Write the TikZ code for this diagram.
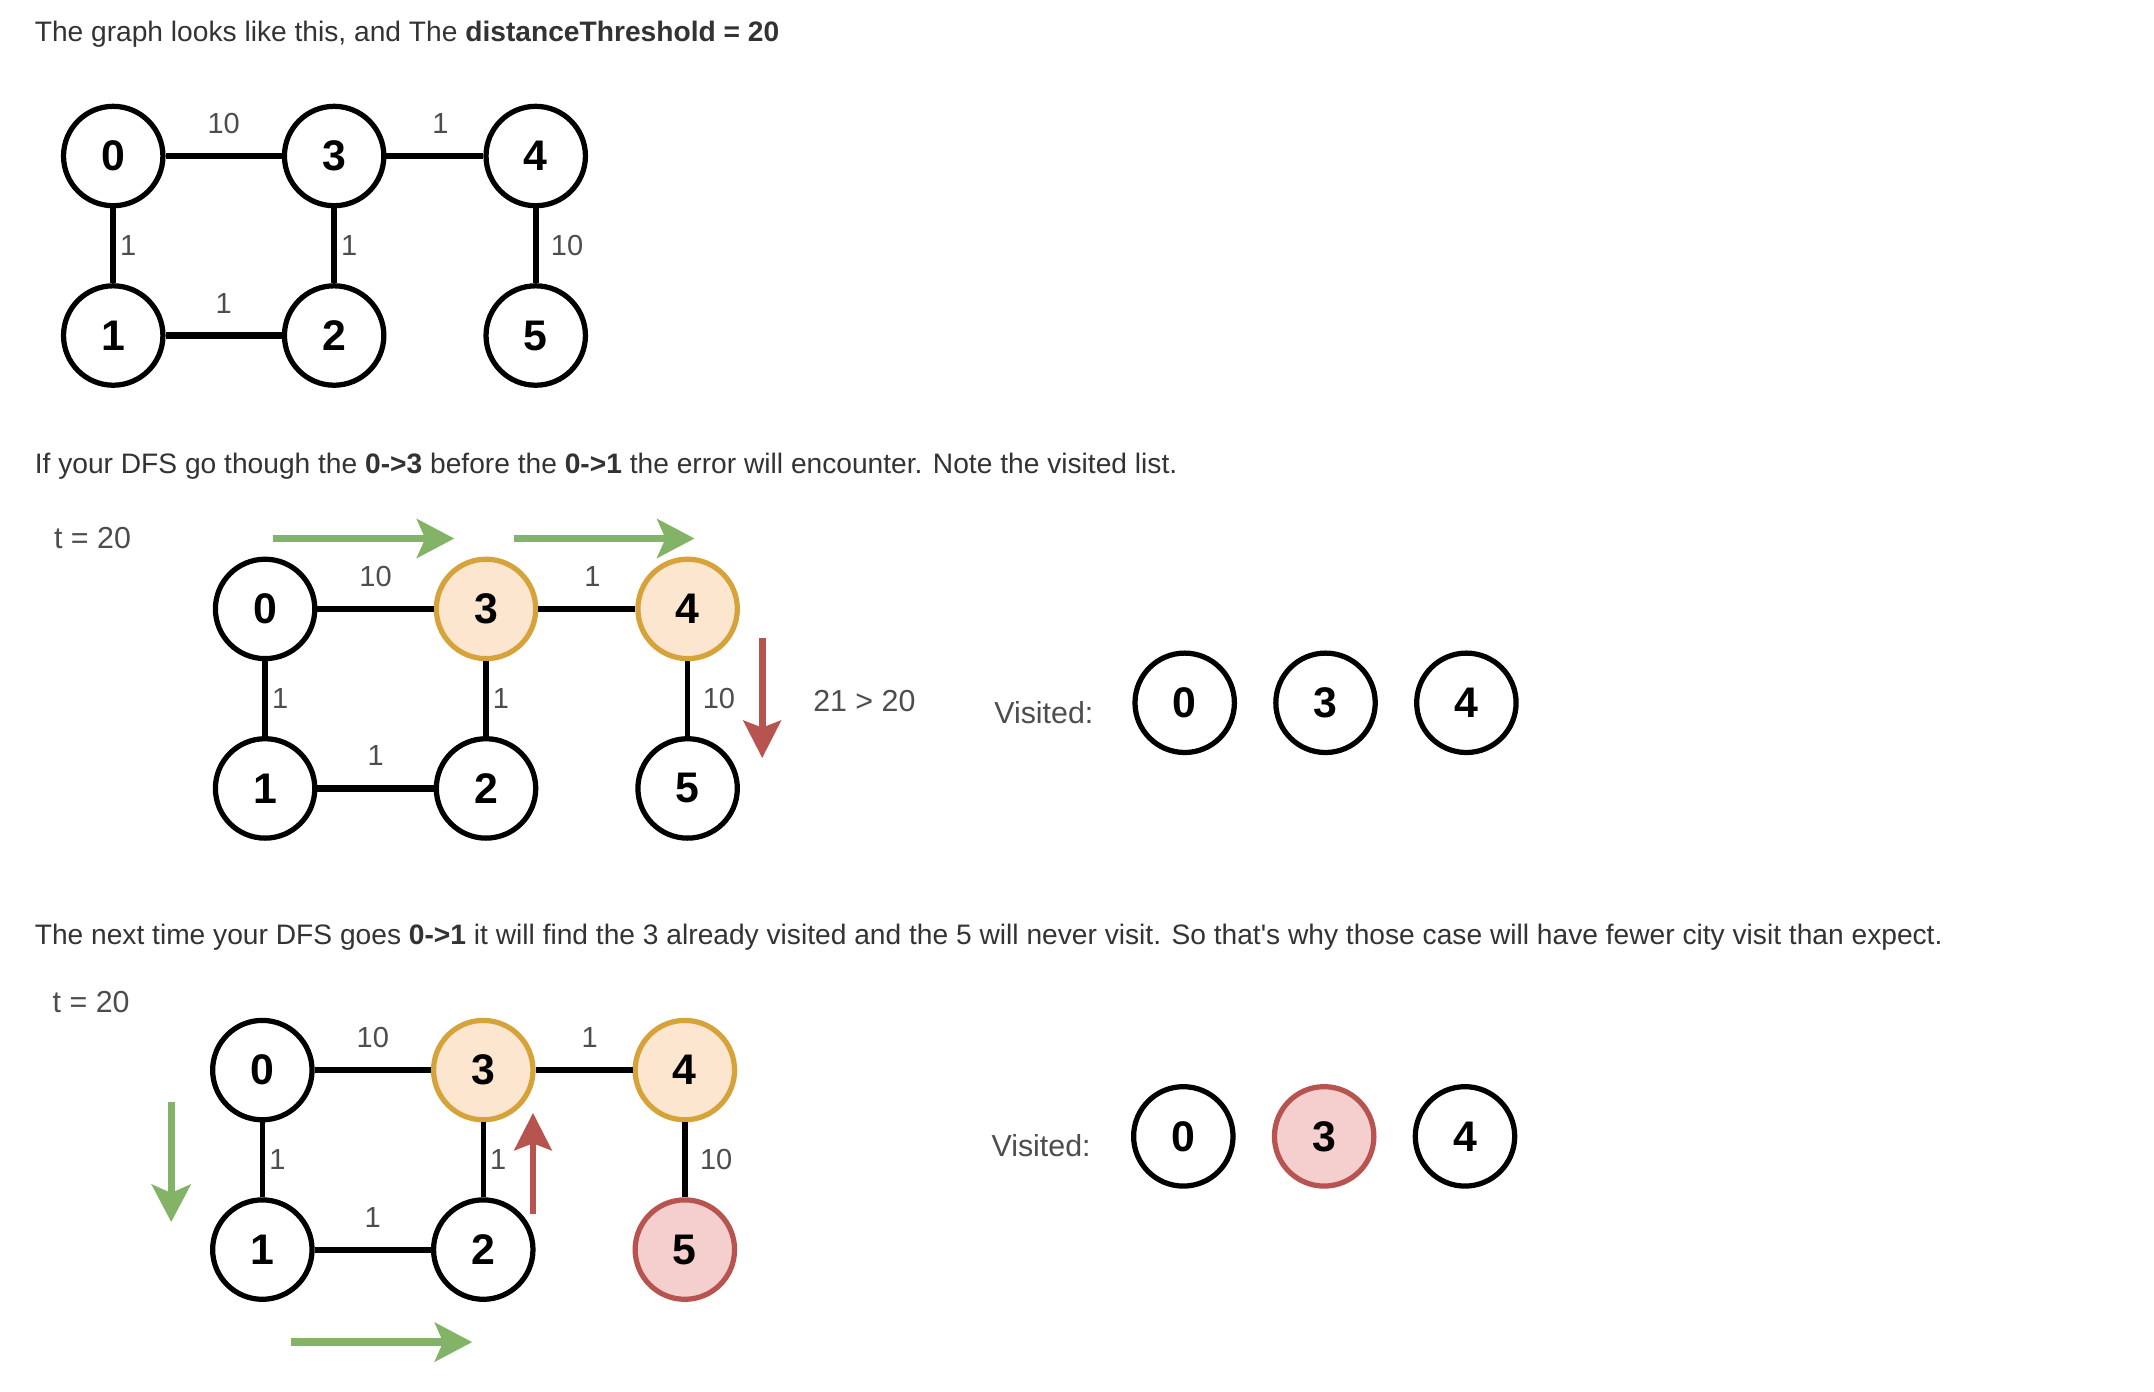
\documentclass[tikz,border=0pt]{standalone}
\usepackage{fontspec}
\setmainfont{Liberation Sans}
\usetikzlibrary{arrows.meta}
\definecolor{txt}{HTML}{333333}
\definecolor{lblc}{HTML}{4D4D4D}
\definecolor{grn}{HTML}{82B366}
\definecolor{rd}{HTML}{B85450}
\definecolor{rdfill}{HTML}{F4CFCD}
\definecolor{org}{HTML}{D6A23A}
\definecolor{orgfill}{HTML}{FCE6CF}
\newcommand\mygraph[6]{%
\begin{scope}[shift={(#2,#3)}]
\node[city] (#1-0) at (0,0) {0};
\node[city,#4] (#1-3) at (160,0) {3};
\node[city,#5] (#1-4) at (306,0) {4};
\node[city] (#1-1) at (0,130) {1};
\node[city] (#1-2) at (160,130) {2};
\node[city,#6] (#1-5) at (306,130) {5};
\draw[hedge] (#1-0) -- node[lbl,above=14pt] {10} (#1-3);
\draw[hedge] (#1-3) -- node[lbl,above=14pt,xshift=4pt] {1} (#1-4);
\draw[vedge] (#1-0) -- node[lbl,anchor=west,xshift=3pt] {1} (#1-1);
\draw[vedge] (#1-3) -- node[lbl,anchor=west,xshift=3pt] {1} (#1-2);
\draw[vedge] (#1-4) -- node[lbl,anchor=west,xshift=9pt] {10} (#1-5);
\draw[hedge] (#1-1) -- node[lbl,above=14pt] {1} (#1-2);
\end{scope}}
\begin{document}
\begin{tikzpicture}[x=1pt,y=-1pt,
  city/.style={circle, draw=black, fill=white, line width=3.8pt, minimum size=72pt, inner sep=0pt,
    font=\fontsize{31}{31}\selectfont\bfseries, text=black},
  hot/.style={draw=org, fill=orgfill},
  bad/.style={draw=rd, fill=rdfill},
  hedge/.style={line width=4.5pt, draw=black},
  vedge/.style={line width=4pt, draw=black},
  lbl/.style={font=\fontsize{21}{21}\selectfont, text=lblc, inner sep=0pt},
  body/.style={font=\fontsize{20.4}{24}\selectfont, text=txt, inner sep=0pt, anchor=base west},
  note/.style={font=\fontsize{22}{22}\selectfont, text=lblc, inner sep=0pt},
  go/.style={draw=grn, line width=5.3pt, -{Stealth[length=27pt,width=28pt,inset=6pt]}},
  stop/.style={draw=rd, line width=5pt, -{Stealth[length=27pt,width=27pt,inset=5pt]}},
]
\useasboundingbox[fill=white] (0,0) rectangle (1560,1008);

% Section 1
\node[body] (t1) at (25,30) {The graph looks like this, and The \textbf{distanceThreshold = 20}};
\mygraph{a}{82}{113}{}{}{}

% Section 2
\node[body] (t2) at (25,343) {If your DFS go though the \textbf{0->3} before the \textbf{0->1} the error will encounter. Note the visited list.};
\node[note] (ta) at (67,390) {t = 20};
\mygraph{b}{192}{441}{hot}{hot}{}
\coordinate (g1s) at (198,390); \coordinate (g1e) at (329,390);
\coordinate (g2s) at (372,390); \coordinate (g2e) at (503,390);
\coordinate (r1s) at (552,462); \coordinate (r1e) at (552,549);
\draw[go] (g1s) -- (g1e);
\draw[go] (g2s) -- (g2e);
\draw[stop] (r1s) -- (r1e);
\node[note] (cmp) at (626,508) {21 > 20};
\node[note] (vis1) at (756,516) {Visited:};
\node[city] (v1-0) at (858,509) {0};
\node[city] (v1-3) at (960,509) {3};
\node[city] (v1-4) at (1062,509) {4};

% Section 3
\node[body] (t3) at (25,684) {The next time your DFS goes \textbf{0->1} it will find the 3 already visited and the 5 will never visit. So that\textquotesingle s why those case will have fewer city visit than expect.};
\node[note] (tb) at (66,726) {t = 20};
\mygraph{c}{190}{775}{hot}{hot}{bad}
\coordinate (g3s) at (124,798); \coordinate (g3e) at (124,885);
\coordinate (g4s) at (211,972); \coordinate (g4e) at (342,972);
\coordinate (r2s) at (386,879); \coordinate (r2e) at (386,806);
\draw[go] (g3s) -- (g3e);
\draw[go] (g4s) -- (g4e);
\draw[stop] (r2s) -- (r2e);
\node[note] (vis2) at (754,830) {Visited:};
\node[city] (v2-0) at (857,823) {0};
\node[city,bad] (v2-3) at (959,823) {3};
\node[city] (v2-4) at (1061,823) {4};
\end{tikzpicture}
\end{document}
